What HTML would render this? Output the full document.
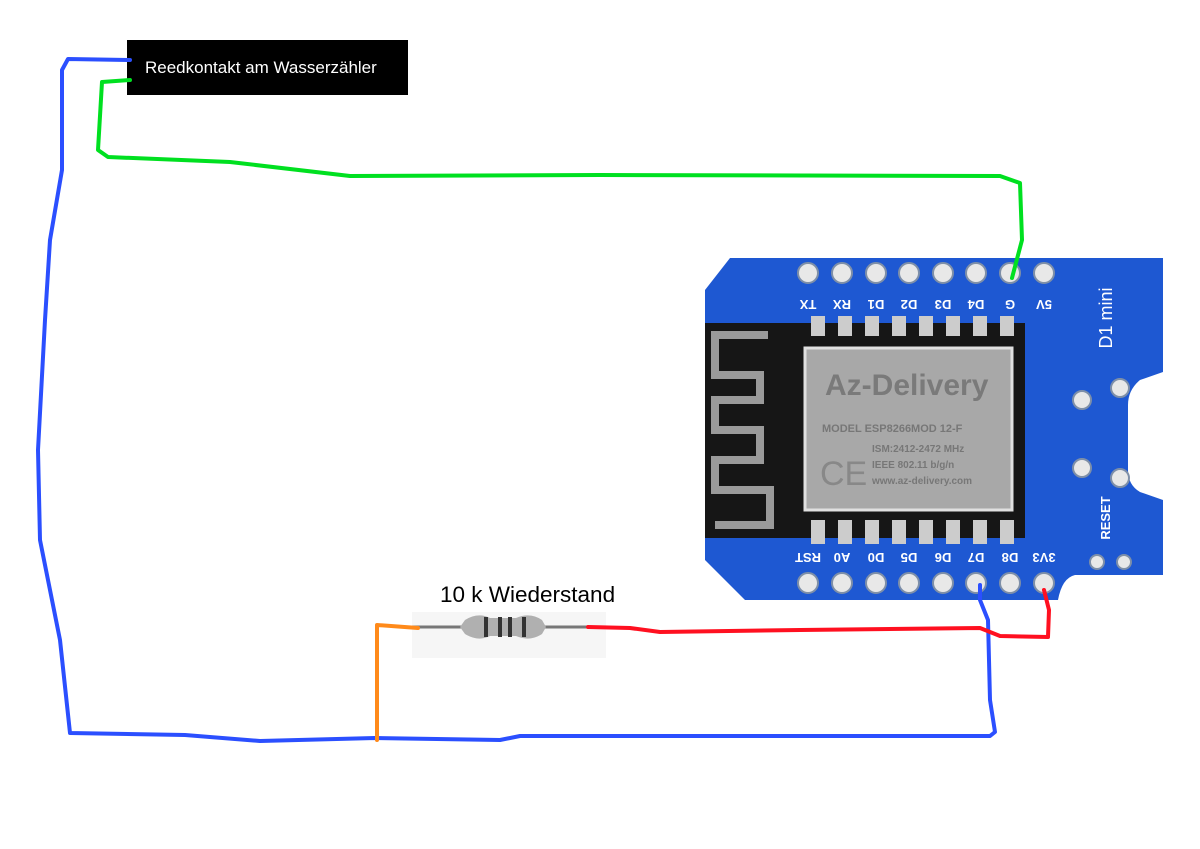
<!DOCTYPE html>
<html><head><meta charset="utf-8"><style>
html,body{margin:0;padding:0;background:#fff;width:1200px;height:849px;overflow:hidden}
svg{display:block}
text{font-family:"Liberation Sans",Arial,sans-serif}
</style></head><body>
<svg width="1200" height="849" viewBox="0 0 1200 849" xmlns="http://www.w3.org/2000/svg">
<rect width="1200" height="849" fill="#fff"/>
<!-- reed box -->
<rect x="127" y="40" width="281" height="55" fill="#000"/>
<text x="145" y="73" font-size="17" fill="#fff">Reedkontakt am Wasserzähler</text>
<!-- board -->
<path d="M730,258 L1163,258 L1163,372 L1140,380 Q1128,390 1128,405 L1128,470 Q1128,485 1140,492 L1163,500 L1163,575 L1075,575 Q1062,578 1058,600 L745,600 L705,560 L705,290 Z" fill="#1e58d2"/>
<rect x="705" y="323" width="320" height="215" fill="#161616"/>
<!-- antenna -->
<path d="M768,335 L715,335 L715,375 L760,375 L760,400 L715,400 L715,430 L760,430 L760,460 L715,460 L715,490 L770,490 L770,525 L715,525" fill="none" stroke="#9a9a9a" stroke-width="8"/>
<rect x="805" y="348" width="207" height="162" fill="#a8a8a8" stroke="#e0e0e0" stroke-width="3"/>
<text x="825" y="395" font-size="30" fill="#7a7a7a" font-weight="bold">Az-Delivery</text>
<text x="822" y="432" font-size="11" fill="#777" font-weight="bold">MODEL ESP8266MOD 12-F</text>
<text x="872" y="452" font-size="10" fill="#777" font-weight="bold">ISM:2412-2472 MHz</text>
<text x="872" y="468" font-size="10" fill="#777" font-weight="bold">IEEE 802.11 b/g/n</text>
<text x="872" y="484" font-size="10" fill="#777" font-weight="bold">www.az-delivery.com</text>
<text x="820" y="485" font-size="34" fill="#888">CE</text>
<g fill="#ccc">
<rect x="811" y="316" width="14" height="20"/><rect x="838" y="316" width="14" height="20"/><rect x="865" y="316" width="14" height="20"/><rect x="892" y="316" width="14" height="20"/><rect x="919" y="316" width="14" height="20"/><rect x="946" y="316" width="14" height="20"/><rect x="973" y="316" width="14" height="20"/><rect x="1000" y="316" width="14" height="20"/>
<rect x="811" y="520" width="14" height="24"/><rect x="838" y="520" width="14" height="24"/><rect x="865" y="520" width="14" height="24"/><rect x="892" y="520" width="14" height="24"/><rect x="919" y="520" width="14" height="24"/><rect x="946" y="520" width="14" height="24"/><rect x="973" y="520" width="14" height="24"/><rect x="1000" y="520" width="14" height="24"/>
</g>
<g fill="#e8e8e8" stroke="#7e8fa8" stroke-width="2">
<circle cx="808" cy="273" r="10"/><circle cx="842" cy="273" r="10"/><circle cx="876" cy="273" r="10"/><circle cx="909" cy="273" r="10"/><circle cx="943" cy="273" r="10"/><circle cx="976" cy="273" r="10"/><circle cx="1010" cy="273" r="10"/><circle cx="1044" cy="273" r="10"/>
<circle cx="808" cy="583" r="10"/><circle cx="842" cy="583" r="10"/><circle cx="876" cy="583" r="10"/><circle cx="909" cy="583" r="10"/><circle cx="943" cy="583" r="10"/><circle cx="976" cy="583" r="10"/><circle cx="1010" cy="583" r="10"/><circle cx="1044" cy="583" r="10"/>
<circle cx="1082" cy="400" r="9"/><circle cx="1082" cy="468" r="9"/><circle cx="1120" cy="388" r="9"/><circle cx="1120" cy="478" r="9"/><circle cx="1097" cy="562" r="7"/><circle cx="1124" cy="562" r="7"/>
</g>
<g fill="#fff" font-size="13" font-weight="bold" text-anchor="middle">
<text transform="translate(808,300) rotate(180)" >TX</text><text transform="translate(842,300) rotate(180)">RX</text><text transform="translate(876,300) rotate(180)">D1</text><text transform="translate(909,300) rotate(180)">D2</text><text transform="translate(943,300) rotate(180)">D3</text><text transform="translate(976,300) rotate(180)">D4</text><text transform="translate(1010,300) rotate(180)">G</text><text transform="translate(1044,300) rotate(180)">5V</text>
<text transform="translate(808,553) rotate(180)">RST</text><text transform="translate(842,553) rotate(180)">A0</text><text transform="translate(876,553) rotate(180)">D0</text><text transform="translate(909,553) rotate(180)">D5</text><text transform="translate(943,553) rotate(180)">D6</text><text transform="translate(976,553) rotate(180)">D7</text><text transform="translate(1010,553) rotate(180)">D8</text><text transform="translate(1044,553) rotate(180)">3V3</text>
<text transform="translate(1112,318) rotate(-90)" font-size="18" font-weight="normal">D1 mini</text>
<text transform="translate(1110,518) rotate(-90)">RESET</text>
</g>
<!-- resistor -->
<rect x="412" y="612" width="194" height="46" fill="#f6f6f6"/>
<text x="440" y="602" font-size="22.5" fill="#000">10 k Wiederstand</text>
<line x1="412" y1="627" x2="600" y2="627" stroke="#777" stroke-width="3"/>
<path d="M465,620 Q478,612 490,618 L516,618 Q530,612 542,620 L546,627 L542,634 Q530,642 516,636 L490,636 Q478,642 465,634 L460,627 Z" fill="#b0b0b0"/>
<g stroke="#333" stroke-width="4"><line x1="486" y1="617" x2="486" y2="637"/><line x1="500" y1="617" x2="500" y2="637"/><line x1="510" y1="617" x2="510" y2="637"/><line x1="524" y1="617" x2="524" y2="637"/></g>
<!-- wires -->
<g fill="none" stroke-width="4" stroke-linecap="round" stroke-linejoin="round">
<path d="M130,60 L68,59 L62,70 L62,170 L50,240 L45,320 L38,450 L40,540 L60,640 L70,733 L185,735 L260,741 L375,738 L500,740 L520,736 L990,736 L995,732 L990,700 L988,620 L980,600 L980,585" stroke="#2b4fff"/>
<path d="M130,80 L102,82 L98,150 L108,157 L230,162 L350,176 L600,175 L1000,176 L1020,183 L1022,240 L1012,278" stroke="#00e020"/>
<path d="M377,740 L377,625 L418,628" stroke="#ff8a1a"/>
<path d="M588,627 L630,628 L660,632 L800,630 L980,628 L1000,636 L1048,637 L1049,610 L1044,590" stroke="#ff1020"/>
</g>
</svg>
</body></html>
